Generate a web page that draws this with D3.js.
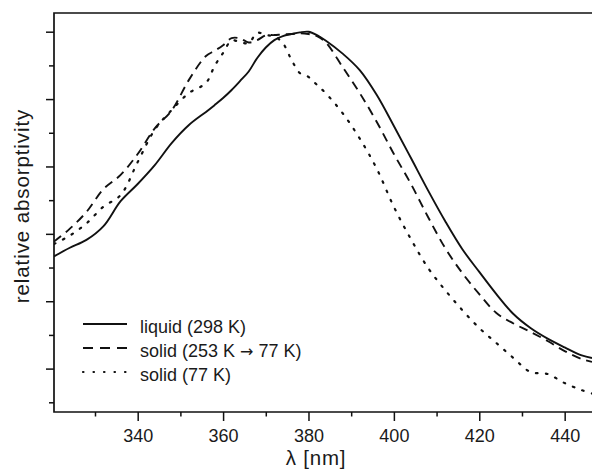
<!DOCTYPE html>
<html>
<head>
<meta charset="utf-8">
<script src="https://cdn.jsdelivr.net/npm/d3@7"></script>
<style>
  html, body { margin: 0; padding: 0; background: #fff; }
  svg { display: block; }
  text { font-family: "Liberation Sans", Arial, Helvetica, sans-serif; fill: #1a1a1a; }
</style>
</head>
<body>
<script>
// ---- data ----
const wavelength = [320.4,324,328,332,336,340,344,348,352,356,358,360,362,364,366,368,370,372,374,376,378,380,382,384,388,392,396,400,404,408,412,416,420,424,428,432,436,440,444,446.4];
const liquid298 = [0.333,0.358,0.382,0.423,0.497,0.548,0.604,0.670,0.723,0.762,0.782,0.803,0.827,0.854,0.882,0.922,0.953,0.975,0.987,0.993,0.998,1.000,0.990,0.974,0.935,0.886,0.812,0.720,0.625,0.529,0.438,0.355,0.287,0.221,0.162,0.1205,0.089,0.063,0.039,0.0315];
const solid253to77 = [0.377,0.414,0.465,0.533,0.575,0.637,0.713,0.767,0.857,0.928,0.943,0.960,0.981,0.980,0.968,0.975,0.989,0.990,0.992,0.993,0.995,0.993,0.987,0.969,0.895,0.818,0.732,0.637,0.548,0.450,0.358,0.284,0.221,0.165,0.134,0.109,0.082,0.052,0.0285,0.020];
const solid77 = [0.370,0.394,0.431,0.481,0.515,0.613,0.709,0.768,0.818,0.848,0.898,0.937,0.974,0.969,0.966,0.997,0.990,0.986,0.966,0.917,0.877,0.866,0.842,0.818,0.758,0.683,0.593,0.480,0.384,0.299,0.233,0.174,0.1205,0.076,0.0315,-0.010,-0.016,-0.043,-0.064,-0.074];

const seriesNames = [["liquid (298 K)"], ["solid (253 K ", "\u2192", " 77 K)"], ["solid (77 K)"]];
const seriesValues = [liquid298, solid253to77, solid77];
const seriesDash = [null, "9,6", "1.6,8.4"];

const xMajorTicks = [340, 360, 380, 400, 420, 440];
const xMinorTicks = [330, 350, 370, 390, 410, 430];
const yMajorTicks = [0, 0.2, 0.4, 0.6, 0.8, 1.0];
const yMinorTicks = [-0.1, 0.1, 0.3, 0.5, 0.7, 0.9];

const xDomain = [320.4, 446.4];
const yDomain = [-0.1288, 1.0555];

// ---- layout ----
const W = 592, H = 470;
const pLeft = 54, pTop = 13, pRight = 592, pBottom = 412;

const svg = d3.select("body").append("svg").attr("width", W).attr("height", H);

const x = d3.scaleLinear().domain(xDomain).range([pLeft, pRight]);
const y = d3.scaleLinear().domain(yDomain).range([pBottom, pTop]);

svg.append("defs").append("clipPath").attr("id", "plotclip")
  .append("rect").attr("x", pLeft).attr("y", pTop - 2).attr("width", pRight - pLeft).attr("height", pBottom - pTop + 2);

// axes
function styleAxis(g) {
  g.select(".domain").remove();
  g.selectAll(".tick line").attr("stroke", "#111").attr("stroke-width", 1.5);
  g.selectAll(".tick text").style("font-size", "18px").attr("fill", "#1a1a1a");
}

svg.append("g").attr("transform", `translate(0,${pBottom})`)
  .call(d3.axisBottom(x).tickValues(xMajorTicks).tickSize(9).tickPadding(8.5).tickFormat(d3.format("d")))
  .call(styleAxis);
svg.append("g").attr("transform", `translate(0,${pBottom})`)
  .call(d3.axisBottom(x).tickValues(xMinorTicks).tickSize(4.5).tickFormat(""))
  .call(styleAxis);
svg.append("g").attr("transform", `translate(${pLeft},0)`)
  .call(d3.axisLeft(y).tickValues(yMajorTicks).tickSize(8).tickFormat(""))
  .call(styleAxis);
svg.append("g").attr("transform", `translate(${pLeft},0)`)
  .call(d3.axisLeft(y).tickValues(yMinorTicks).tickSize(5).tickFormat(""))
  .call(styleAxis);

// frame (top, left, bottom)
svg.append("path")
  .attr("d", `M${pRight},${pTop}H${pLeft}V${pBottom}H${pRight}`)
  .attr("fill", "none").attr("stroke", "#111").attr("stroke-width", 1.7);

// lines
const line = d3.line()
  .x((d, i) => x(wavelength[i]))
  .y(d => y(d))
  .curve(d3.curveCatmullRom.alpha(0.5));

const lg = svg.append("g").attr("clip-path", "url(#plotclip)");
seriesValues.forEach((vals, k) => {
  lg.append("path")
    .attr("d", line(vals))
    .attr("fill", "none")
    .attr("stroke", "#111")
    .attr("stroke-width", k === 2 ? 2.2 : 1.9)
    .attr("stroke-linecap", k === 2 ? "round" : "butt")
    .attr("stroke-dasharray", seriesDash[k]);
});

// legend
const legY = [324, 348, 372];
seriesNames.forEach((parts, k) => {
  svg.append("line")
    .attr("x1", 83).attr("x2", 127).attr("y1", legY[k]).attr("y2", legY[k])
    .attr("stroke", "#111")
    .attr("stroke-width", k === 2 ? 2.2 : 1.9)
    .attr("stroke-linecap", k === 2 ? "round" : "butt")
    .attr("stroke-dasharray", k === 1 ? "10,7" : (k === 2 ? "0.5,10" : null));
  const t = svg.append("text")
    .attr("x", 140).attr("y", legY[k] + 8.7)
    .style("font-size", "18px");
  parts.forEach(p => {
    const ts = t.append("tspan").text(p);
    if (p === "\u2192") ts.style("font-family", "'DejaVu Sans', sans-serif").style("font-size", "16px");
  });
});

// axis titles
svg.append("text")
  .attr("x", 316).attr("y", 465)
  .attr("text-anchor", "middle")
  .style("font-size", "20.5px")
  .style("letter-spacing", "0.8px")
  .text("\u03bb [nm]");

svg.append("text")
  .attr("transform", "translate(29,206) rotate(-90)")
  .attr("text-anchor", "middle")
  .style("font-size", "20.5px")
  .style("letter-spacing", "0.9px")
  .text("relative absorptivity");
</script>
</body>
</html>
